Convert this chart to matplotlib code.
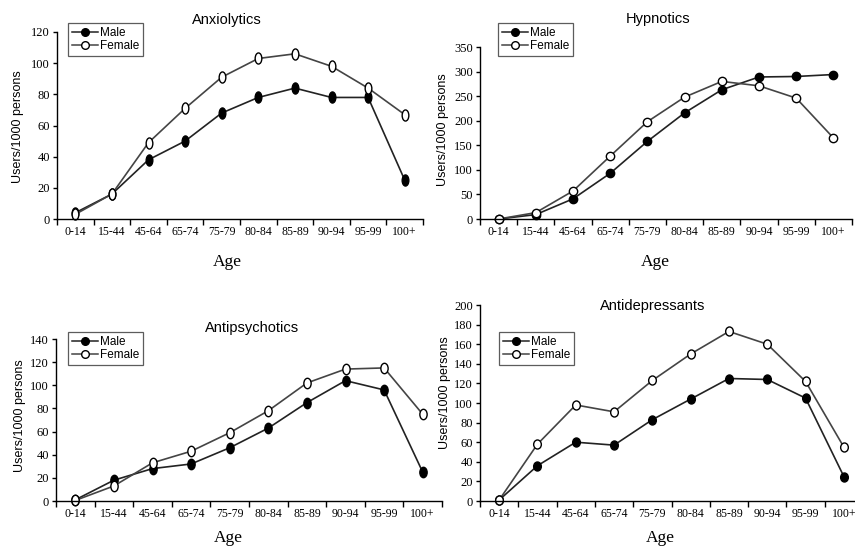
import numpy as np
import matplotlib
matplotlib.use("Agg")
import matplotlib.pyplot as plt
from matplotlib.path import Path
from matplotlib.transforms import Affine2D
from matplotlib.lines import Line2D

AGES = ['0-14', '15-44', '45-64', '65-74', '75-79', '80-84',
        '85-89', '90-94', '95-99', '100+']

anx_male = [4, 16, 38, 50, 68, 78, 84, 78, 78, 25]
anx_female = [3, 16, 49, 71, 91, 103, 106, 98, 84, 67]

hyp_male = [0, 9, 41, 93, 158, 216, 263, 289, 290, 294]
hyp_female = [0, 13, 57, 128, 198, 248, 280, 271, 246, 165]

aps_male = [1, 18, 28, 32, 46, 63, 85, 104, 96, 25]
aps_female = [0.5, 13, 33, 43, 59, 78, 102, 114, 115, 75]

adp_male = [1, 36, 60, 57, 83, 104, 125, 124, 105, 25]
adp_female = [1, 58, 98, 91, 123, 150, 173, 160, 122, 55]

SANS = 'Liberation Sans'
SERIF = 'Liberation Serif'
W, H = 855, 546


def ellipse(sx):
    return Path.unit_circle().transformed(Affine2D().scale(sx, 1.0))


def px_rect(left, right, top, bottom):
    return [left / W, 1 - bottom / H, (right - left) / W, (bottom - top) / H]


# name, male, female, axes rect (px), ylim, ystep, marker aspect, marker size,
# title xy, ylabel xy, Age xy, legend anchor
panels = [
    ('Anxiolytics', anx_male, anx_female, (57, 423, 32, 219), 120, 20, 0.6, 8,
     (227, 20), (18, 127), (227, 262), (68, 23)),
    ('Hypnotics', hyp_male, hyp_female, (480, 852, 47, 219), 350, 50, 1.0, 6,
     (658, 19), (443, 130), (655, 262), (498, 23)),
    ('Antipsychotics', aps_male, aps_female, (56, 442, 339, 501), 140, 20, 0.7, 7.5,
     (252, 328), (20, 416), (228, 538), (68, 332)),
    ('Antidepressants', adp_male, adp_female, (480, 863, 305, 501), 200, 20, 0.85, 6.5,
     (653, 306), (445, 393), (660, 538), (499, 332)),
]

fig = plt.figure(figsize=(W / 100, H / 100), dpi=100)
x = np.arange(len(AGES))

handles = [
    Line2D([], [], color='#222222', lw=1.1, marker='o', ms=5.5,
           mfc='black', mec='black'),
    Line2D([], [], color='#444444', lw=1.1, marker='o', ms=5.5,
           mfc='white', mec='black'),
]

for (name, male, female, rect, ymax, ystep, asp, ms,
     tpos, ylpos, apos, lpos) in panels:
    ax = fig.add_axes(px_rect(*rect))
    mk = ellipse(asp)
    ax.plot(x, male, color='#222222', lw=1.2, marker=mk, ms=ms,
            mfc='black', mec='black', clip_on=False)
    ax.plot(x, female, color='#444444', lw=1.2, marker=mk, ms=ms,
            mfc='white', mec='black', mew=1.0, clip_on=False)
    ax.set_xlim(-0.5, len(AGES) - 0.5)
    ax.set_ylim(0, ymax)
    ax.set_yticks(np.arange(0, ymax + 1, ystep))
    # ticks between categories, labels at the centres
    ax.set_xticks(np.arange(-0.5, len(AGES), 1.0))
    ax.set_xticklabels([])
    ax.set_xticks(x, minor=True)
    ax.set_xticklabels(AGES, minor=True, fontfamily=SERIF, fontsize=8.5)
    ax.tick_params(axis='x', which='minor', length=0, pad=5)
    ax.tick_params(axis='x', which='major', direction='out', length=4, width=1)
    ax.tick_params(axis='y', direction='out', length=3, width=1, pad=2)
    for lab in ax.get_yticklabels():
        lab.set_fontfamily(SERIF)
        lab.set_fontsize(9)
    for s in ['top', 'right']:
        ax.spines[s].set_visible(False)
    for s in ['left', 'bottom']:
        ax.spines[s].set_linewidth(1.0)
    fig.text(tpos[0] / W, 1 - tpos[1] / H, name, ha='center', va='center',
             fontfamily=SANS, fontsize=10.5)
    fig.text(ylpos[0] / W, 1 - ylpos[1] / H, 'Users/1000 persons', rotation=90,
             ha='center', va='center', fontfamily=SANS, fontsize=9)
    fig.text(apos[0] / W, 1 - apos[1] / H, 'Age', ha='center', va='center',
             fontfamily=SERIF, fontsize=12.5)
    leg = ax.legend(handles, ['Male', 'Female'], loc='upper left',
                    bbox_to_anchor=(lpos[0] / W, 1 - lpos[1] / H),
                    bbox_transform=fig.transFigure, frameon=True, fancybox=False,
                    borderaxespad=0, borderpad=0.35, handlelength=2.2,
                    handletextpad=0.15, labelspacing=0.1,
                    prop={'family': SANS, 'size': 8.5})
    leg.get_frame().set_edgecolor('#333333')
    leg.get_frame().set_linewidth(0.9)

fig.savefig('out.png', dpi=100)
